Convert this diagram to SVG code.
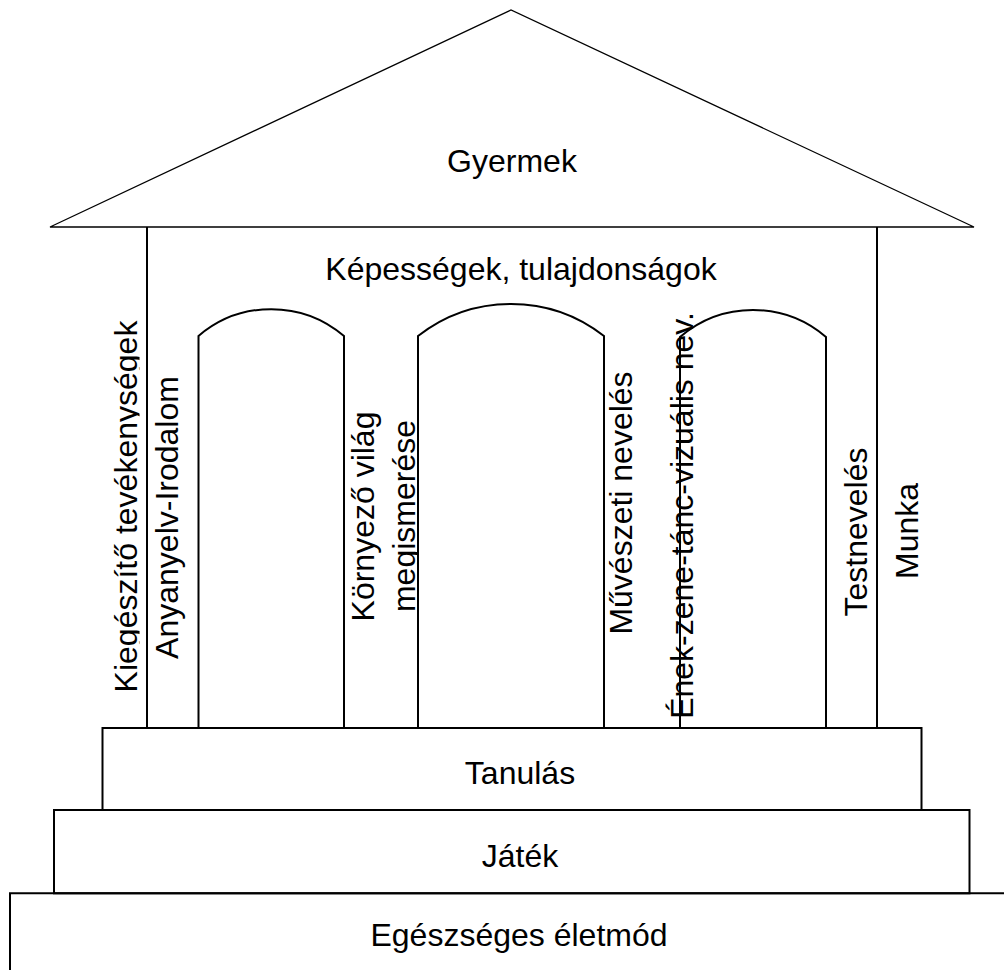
<svg xmlns="http://www.w3.org/2000/svg" width="1004" height="970" viewBox="0 0 1004 970">
<style>
.ln{fill:none;stroke:#000;stroke-width:2}
.roof{fill:none;stroke:#000;stroke-width:1.3;stroke-linejoin:miter}
.t{font-family:"Liberation Sans",Arial,sans-serif;font-size:32px;fill:#000;text-anchor:middle}
</style>
<defs>
<clipPath id="clipK"><rect x="0" y="200" width="139.5" height="600"/></clipPath>
<clipPath id="clipM"><rect x="300" y="200" width="117" height="600"/></clipPath>
</defs>
<rect width="1004" height="970" fill="#fff"/>
<g id="roof">
<polygon class="roof" points="50,227 511,10 974,227"/>
<text class="t" x="512" y="172">Gyermek</text>
</g>
<g id="body">
<path class="ln" d="M147,227 V728 M877,227 V728"/>
<text class="t" x="521" y="280">Képességek, tulajdonságok</text>
</g>
<g id="pillar1">
<path class="ln" d="M198.5,728 V336 A112,112 0 0 1 344,336 V728"/>
</g>
<g id="pillar2">
<path class="ln" d="M418,728 V336 A151,151 0 0 1 604,336 V728"/>
</g>
<g id="pillar3">
<path class="ln" d="M680,728 V337 A112,112 0 0 1 826,337 V728"/>
</g>
<g id="labels">
<g clip-path="url(#clipK)"><text class="t" transform="translate(137,506.5) rotate(-90)">Kiegészítő tevékenységek</text></g>
<text class="t" transform="translate(178,517.5) rotate(-90)">Anyanyelv-Irodalom</text>
<text class="t" transform="translate(374,516.5) rotate(-90)">Környező világ</text>
<g clip-path="url(#clipM)"><text class="t" transform="translate(415,516) rotate(-90)">megismerése</text></g>
<text class="t" transform="translate(632,503) rotate(-90)">Művészeti nevelés</text>
<text class="t" transform="translate(693,515.5) rotate(-90)">Ének-zene-tánc-vizuális nev.</text>
<text class="t" transform="translate(867,532) rotate(-90)">Testnevelés</text>
<text class="t" transform="translate(918,531) rotate(-90)">Munka</text>
</g>
<g id="tanulas">
<rect class="ln" x="102.5" y="728" width="819" height="82"/>
<text class="t" x="520" y="784">Tanulás</text>
</g>
<g id="jatek">
<rect class="ln" x="54" y="810" width="915.5" height="83.3"/>
<text class="t" x="520" y="867">Játék</text>
</g>
<g id="eletmod">
<path class="ln" d="M10,972 V893.3 H1006"/>
<text class="t" x="519" y="946">Egészséges életmód</text>
</g>
<g id="connectors"/>
</svg>
